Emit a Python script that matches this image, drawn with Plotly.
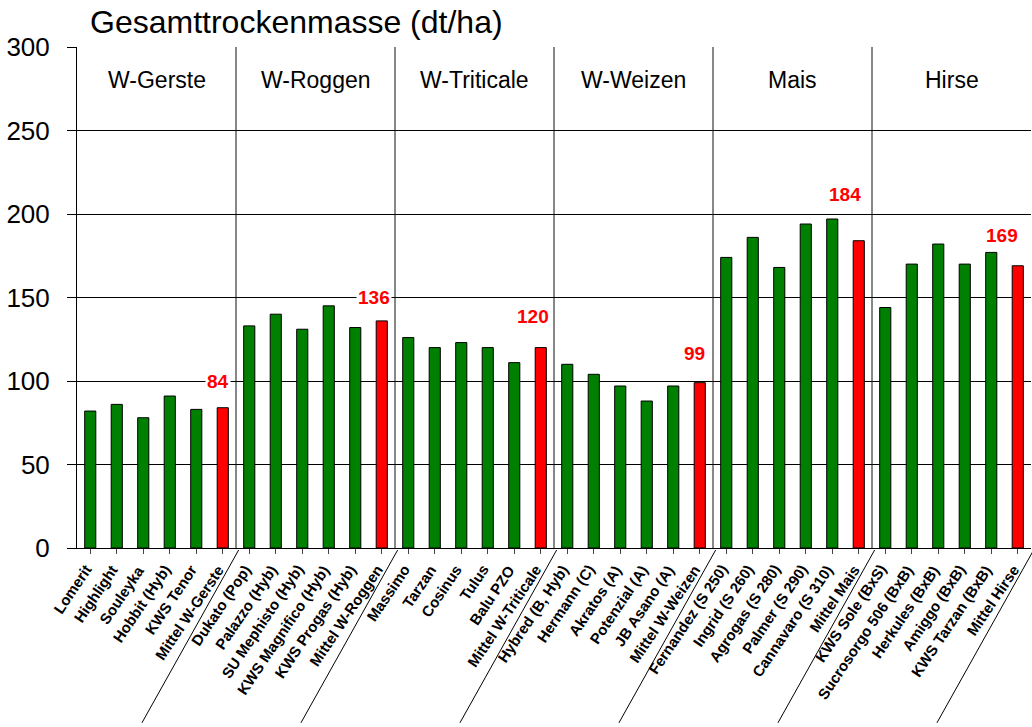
import plotly.graph_objects as go

groups = ["W-Gerste", "W-Roggen", "W-Triticale", "W-Weizen", "Mais", "Hirse"]
varieties = [
    ["Lomerit", "Highlight", "Souleyka", "Hobbit (Hyb)", "KWS Tenor", "Mittel W-Gerste"],
    ["Dukato (Pop)", "Palazzo (Hyb)", "SU Mephisto (Hyb)", "KWS Magnifico (Hyb)", "KWS Progas (Hyb)", "Mittel W-Roggen"],
    ["Massimo", "Tarzan", "Cosinus", "Tulus", "Balu PZO", "Mittel W-Triticale"],
    ["Hybred (B, Hyb)", "Hermann (C)", "Akratos (A)", "Potenzial (A)", "JB Asano (A)", "Mittel W-Weizen"],
    ["Fernandez (S 250)", "Ingrid (S 260)", "Agrogas (S 280)", "Palmer (S 290)", "Cannavaro (S 310)", "Mittel Mais"],
    ["KWS Sole (BxS)", "Sucrosorgo 506 (BxB)", "Herkules (BxB)", "Amiggo (BxB)", "KWS Tarzan (BxB)", "Mittel Hirse"],
]
values = [
    [82, 86, 78, 91, 83, 84],
    [133, 140, 131, 145, 132, 136],
    [126, 120, 123, 120, 111, 120],
    [110, 104, 97, 88, 97, 99],
    [174, 186, 168, 194, 197, 184],
    [144, 170, 182, 170, 177, 169],
]
y_ticks = [0, 50, 100, 150, 200, 250, 300]

# styling for the mean-value labels (pixel offsets)
label_xshift = [-5, -8, -8, -5, -14, -16]
label_yshift = [26, 23, 31, 29, 46, 30]

cats = [v for g in varieties for v in g]
vals = [x for g in values for x in g]
colors = ["#FF0000" if c.startswith("Mittel") else "#008000" for c in cats]
n = len(cats)

FONT = "Liberation Sans, Arial, Helvetica, sans-serif"

fig = go.Figure()
fig.add_trace(go.Bar(
    x=list(range(n)), y=vals,
    marker=dict(color=colors, line=dict(color="black", width=1)),
    width=0.42, showlegend=False, hoverinfo="x+y",
))

shapes = []
annotations = []
gsize = len(varieties[0])
for gi, gname in enumerate(groups):
    start = gi * gsize
    end = start + gsize - 1
    b = end + 0.5
    # vertical separator inside plot
    if gi < len(groups) - 1:
        shapes.append(dict(type="line", xref="x", yref="y", x0=b, x1=b, y0=0, y1=300,
                           line=dict(color="#111111", width=1), layer="above"))
    # diagonal separator in the label area
    px0 = (b + 0.1 + 0.5) / n
    px1 = (b - 3.55 + 0.5) / n
    shapes.append(dict(type="line", xref="paper", yref="paper", x0=px0, x1=px1, y0=-0.004, y1=-0.349,
                       line=dict(color="black", width=1)))
    # group header
    annotations.append(dict(x=(start + end) / 2, y=280, xref="x", yref="y", text=gname,
                            showarrow=False, font=dict(family=FONT, size=23, color="black"),
                            yanchor="middle"))
    # mean label
    annotations.append(dict(x=end, y=values[gi][-1], xref="x", yref="y",
                            text=str(values[gi][-1]), showarrow=False,
                            font=dict(family=FONT, size=19, color="#FF0000", weight="bold"),
                            bgcolor="white", yanchor="middle",
                            xshift=label_xshift[gi], yshift=label_yshift[gi]))

# rotated category labels
for i, c in enumerate(cats):
    annotations.append(dict(x=i, y=0, xref="x", yref="y", text=c, showarrow=False,
                            textangle=-56, xanchor="right", yanchor="top",
                            xshift=7, yshift=-11,
                            font=dict(family=FONT, size=15, color="black", weight="bold")))

fig.update_layout(
    width=1032, height=727,
    margin=dict(l=77, r=1, t=47, b=179),
    plot_bgcolor="white", paper_bgcolor="white",
    title=dict(text="Gesamttrockenmasse (dt/ha)", x=90 / 1032, xanchor="left",
               y=1 - 22 / 727, yanchor="middle",
               font=dict(family=FONT, size=32, color="black")),
    xaxis=dict(
        tickmode="array", tickvals=list(range(n)), ticktext=cats,
        showticklabels=False,
        range=[-0.5, n - 0.5],
        ticks="outside", ticklen=5, tickcolor="#444444", tickson="boundaries",
        showline=True, linecolor="black", linewidth=1,
        showgrid=False, zeroline=False,
    ),
    yaxis=dict(
        range=[0, 300], tickvals=y_ticks,
        tickfont=dict(family=FONT, size=26, color="black"),
        ticks="outside", ticklen=9, tickcolor="black",
        ticklabelstandoff=12,
        showline=True, linecolor="black", linewidth=1,
        showgrid=True, gridcolor="black", gridwidth=1,
        zeroline=False,
    ),
    shapes=shapes,
    annotations=annotations,
    bargap=0.58,
)

fig.write_html("out.html")
